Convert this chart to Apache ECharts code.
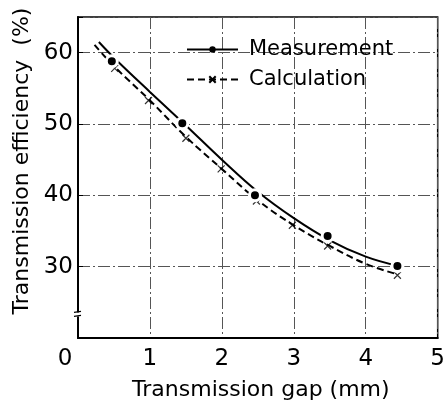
<!DOCTYPE html>
<html>
<head>
<meta charset="utf-8">
<script src="https://cdn.jsdelivr.net/npm/echarts@6/dist/echarts.min.js"></script>
<style>html,body{margin:0;padding:0;background:#fff}#c{width:448px;height:406px}</style>
</head>
<body>
<div id="c"></div>
<script>
// Measured points (Transmission gap mm, efficiency %)
const measX = [0.47, 1.45, 2.46, 3.47, 4.44];
const measY = [58.8, 50.1, 40.0, 34.3, 30.1];
// Calculated points
const calcX = [0.51, 0.98, 1.5, 1.99, 2.48, 2.98, 3.47, 4.44];
const calcY = [57.8, 53.3, 48.0, 43.7, 39.2, 35.8, 32.9, 28.8];
// Fitted curves
const measCurveX = [0.29, 0.5, 1.0, 1.5, 2.0, 2.5, 3.0, 3.5, 4.0, 4.45];
const measCurveY = [61.5, 59.3, 54.5, 49.8, 45.0, 40.5, 36.8, 33.7, 31.4, 30.1];
const calcCurveX = [0.23, 0.5, 1.0, 1.5, 2.0, 2.5, 3.0, 3.5, 4.0, 4.45];
const calcCurveY = [61.1, 58.1, 53.3, 48.2, 43.7, 39.3, 35.8, 32.9, 30.4, 28.9];
const xTickLabels = ['0', '1', '2', '3', '4', '5'];
const yTickLabels = ['30', '40', '50', '60'];
const breakValue = 23.3;

const zip = (xs, ys) => xs.map((x, i) => [x, ys[i]]);
const FONT = 'DejaVu Sans';
const crossPath = 'path://M0,0L10,10M10,0L0,10';
const gridStyle = { color: '#555', width: 1, type: [12, 3, 2, 3] };

const chart = echarts.init(document.getElementById('c'), null, { renderer: 'canvas' });
const option = {
  backgroundColor: '#fff',
  animation: false,
  grid: { left: 78, right: 6, top: 17, bottom: 68, show: true, borderColor: '#000', borderWidth: 1.5, containLabel: false },
  legend: {
    data: ['Measurement', 'Calculation'],
    orient: 'vertical',
    left: 181, top: 34,
    itemWidth: 51, itemHeight: 8, itemGap: 9,
    textStyle: { fontFamily: FONT, fontSize: 21, color: '#000', padding: [0, 0, 0, 6] }
  },
  xAxis: {
    type: 'value', min: 0, max: 5, interval: 1,
    name: 'Transmission gap (mm)', nameLocation: 'middle', nameGap: 41, nameMoveOverlap: false,
    nameTextStyle: { fontFamily: FONT, fontSize: 22, color: '#000', padding: [0, 0, 0, 6] },
    axisLine: { show: true, lineStyle: { color: '#000', width: 2 } },
    axisTick: { show: false },
    axisLabel: {
      fontFamily: FONT, fontSize: 23, color: '#000', margin: 10,
      formatter: v => {
        const s = xTickLabels[Math.round(v)] || '';
        return v === 0 ? '{z|' + s + '}' : s;
      },
      rich: { z: { fontFamily: FONT, fontSize: 23, color: '#000', padding: [0, 26, 0, 0] } }
    },
    splitLine: { show: true, lineStyle: gridStyle }
  },
  yAxis: {
    type: 'value', min: 20, max: 65, interval: 10,
    name: 'Transmission efficiency  (%)', nameLocation: 'middle', nameGap: 45, nameRotate: 90, nameMoveOverlap: false,
    nameTextStyle: { fontFamily: FONT, fontSize: 22, color: '#000', padding: [0, 0, 0, 33] },
    axisLine: { show: true, lineStyle: { color: '#000', width: 2 } },
    axisTick: { show: true, inside: true, length: 5, lineStyle: { color: '#000' } },
    axisLabel: {
      fontFamily: FONT, fontSize: 23, color: '#000', margin: 5,
      formatter: v => yTickLabels.indexOf(String(v)) >= 0 ? String(v) : ''
    },
    splitLine: { show: true, lineStyle: gridStyle }
  },
  series: [
    {
      name: 'Measurement', type: 'line', smooth: 0.4, data: zip(measCurveX, measCurveY),
      symbol: 'circle', symbolSize: 7, showSymbol: false,
      itemStyle: { color: '#000' },
      lineStyle: { color: '#000', width: 2 }, z: 2
    },
    {
      name: 'Measurement', type: 'scatter', data: zip(measX, measY),
      symbol: 'circle', symbolSize: 11,
      itemStyle: { color: '#000', borderColor: '#fff', borderWidth: 3, opacity: 1 }, z: 5
    },
    {
      name: 'Calculation', type: 'line', smooth: 0.4, data: zip(calcCurveX, calcCurveY),
      symbol: crossPath, symbolSize: 6, showSymbol: false,
      itemStyle: { color: 'transparent', borderColor: '#000', borderWidth: 1 },
      lineStyle: { color: '#000', width: 2, type: [7, 4] }, z: 2
    },
    {
      name: 'Calculation', type: 'scatter', data: zip(calcX, calcY),
      symbol: crossPath, symbolSize: 7,
      itemStyle: { color: 'transparent', borderColor: '#000', borderWidth: 1.2 }, z: 4
    }
  ]
};
chart.setOption(option);

// axis break mark on the left axis
const p = chart.convertToPixel({ gridIndex: 0 }, [0, breakValue]);
chart.setOption({
  graphic: [
    { type: 'rect', shape: { x: p[0] - 4, y: p[1] - 2, width: 8, height: 4 }, style: { fill: '#fff' }, z: 100 },
    { type: 'line', shape: { x1: p[0] - 4, y1: p[1] - 2, x2: p[0] + 3, y2: p[1] - 3 }, style: { stroke: '#000', lineWidth: 1.2 }, z: 101 },
    { type: 'line', shape: { x1: p[0] - 4, y1: p[1] + 2, x2: p[0] + 3, y2: p[1] + 1 }, style: { stroke: '#000', lineWidth: 1.2 }, z: 101 }
  ]
});
</script>
</body>
</html>
